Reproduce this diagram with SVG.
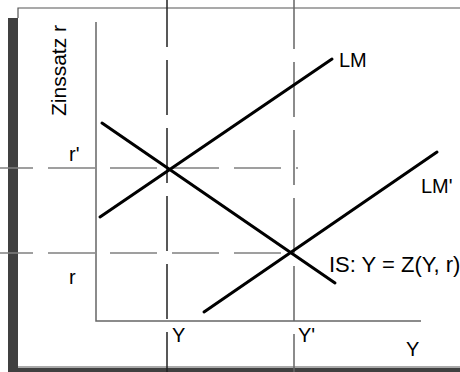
<svg xmlns="http://www.w3.org/2000/svg" width="460" height="372" viewBox="0 0 460 372">
<style>
text{font-family:"Liberation Sans",Arial,sans-serif;font-size:20px;fill:#000}
.curve{stroke:#000;stroke-width:3;fill:none;stroke-linecap:round}
.axis{stroke:#666;stroke-width:1.5;fill:none}
.dh{stroke:#808080;stroke-width:1.5;stroke-dasharray:47 15;fill:none}
.dv{stroke-width:1.5;stroke-dasharray:55 13;fill:none}
</style>
<rect x="0" y="0" width="460" height="372" fill="#fff"/>
<g id="frame">
<rect x="8" y="18" width="10" height="354" fill="#404040"/>
<rect x="18" y="368" width="442" height="4" fill="#404040"/>
<polyline points="18,18 18,8 460,8" fill="none" stroke="#555" stroke-width="1.2"/>
<line x1="18" y1="367" x2="460" y2="367" stroke="#555" stroke-width="1"/>
</g>
<g id="connectors">
<line class="dh" x1="-14" y1="168" x2="298" y2="168"/>
<line class="dh" x1="-14" y1="253" x2="294" y2="253"/>
<line class="dv" stroke="#222" x1="167" y1="-8" x2="167" y2="372"/>
<line class="dv" stroke="#666" x1="294" y1="-6" x2="294" y2="372"/>
<polyline class="axis" points="96,22 96,321 421,321"/>
<line id="LM" class="curve" x1="100" y1="217" x2="332" y2="59"/>
<line id="IS" class="curve" x1="102" y1="123" x2="335" y2="283"/>
<line id="LMp" class="curve" x1="204" y1="312" x2="437" y2="152"/>
</g>
<g id="labels">
<text transform="translate(66,116) rotate(-90)" style="font-size:21px">Zinssatz r</text>
<text x="339" y="67">LM</text>
<text x="421" y="193">LM'</text>
<text x="329" y="272" style="font-size:22px">IS: Y = Z(Y, r)</text>
<text x="69" y="161">r'</text>
<text x="69" y="284">r</text>
<text x="172" y="342">Y</text>
<text x="298" y="342">Y'</text>
<text x="406" y="356">Y</text>
</g>
</svg>
